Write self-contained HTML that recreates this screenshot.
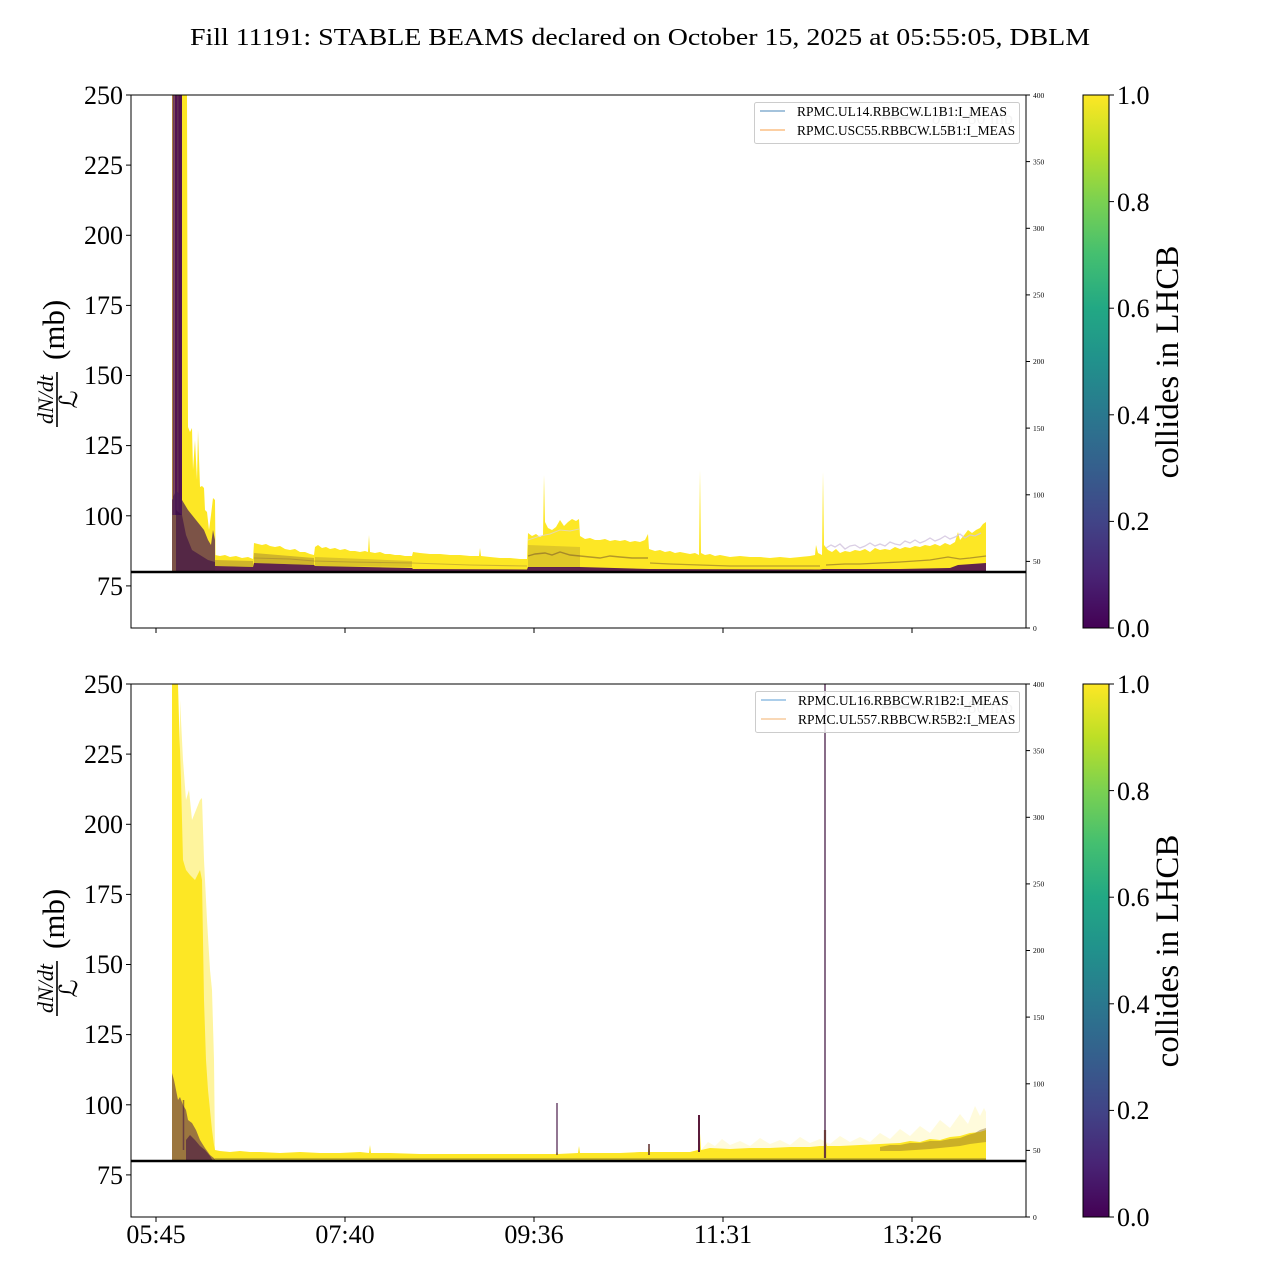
<!DOCTYPE html>
<html>
<head>
<meta charset="utf-8">
<style>
html,body{margin:0;padding:0;background:#fff;}
svg{display:block;}
text{font-family:"Liberation Serif","DejaVu Serif",serif;fill:#000;}
</style>
</head>
<body>
<svg width="1280" height="1280" viewBox="0 0 1280 1280" xmlns="http://www.w3.org/2000/svg">
<defs>
<linearGradient id="vir" x1="0" y1="1" x2="0" y2="0">
<stop offset="0" stop-color="#440154"/>
<stop offset="0.1" stop-color="#482475"/>
<stop offset="0.2" stop-color="#414487"/>
<stop offset="0.3" stop-color="#355f8d"/>
<stop offset="0.4" stop-color="#2a788e"/>
<stop offset="0.5" stop-color="#21918c"/>
<stop offset="0.6" stop-color="#22a884"/>
<stop offset="0.7" stop-color="#44bf70"/>
<stop offset="0.8" stop-color="#7ad151"/>
<stop offset="0.9" stop-color="#bddf26"/>
<stop offset="1" stop-color="#fde725"/>
</linearGradient>
</defs>
<rect width="1280" height="1280" fill="#fff"/>

<!-- Title -->
<text x="640" y="45" font-size="24" text-anchor="middle" textLength="900" lengthAdjust="spacingAndGlyphs">Fill 11191: STABLE BEAMS declared on October 15, 2025 at 05:55:05, DBLM</text>

<!-- ================= TOP PANEL ================= -->
<g>
<!-- early yellow spike region -->
<polygon fill="#fde725" points="172,572 172,95 187,95 187.5,300 188,427 190,432 192,428 193,470 195,440 197,480 198,430 200,487 202,486 204,488 205,510 207,512 209,530 211,515 213,498 215,500 215.5,555 215,572"/>
<!-- main yellow band -->
<polygon fill="#fde725" points="215,572 215,555 220,556 225,555 230,557 236,556 242,558 248,557 253,559 254,543 258,544 262,545 266,544 270,546 275,547 280,546 285,549 290,550 295,549 300,552 305,552 310,554 314,555 315,547 318,545 322,548 326,547 330,549 335,548 340,550 345,549 350,551 355,551 360,552 365,551 368,552 369,535 370,552 375,553 380,552 385,554 390,554 395,555 400,555 405,556 412,556 413,552 420,553 430,554 440,554 450,555 460,555 470,556 479,556 480,548 481,556 490,557 500,558 510,558 520,559 527,559 528,533 532,536 536,534 540,537 543,535 544,475 545,522 548,528 552,530 556,527 560,520 564,526 568,522 572,519 576,521 579,519 580,536 585,539 590,538 595,540 600,540 605,539 610,541 615,540 620,541 625,540 630,542 635,541 640,542 645,540 648,534 649,549 655,551 660,550 665,552 670,551 675,553 680,552 685,553 690,554 695,553 699,555 700,470 701,553 705,555 710,554 715,556 720,555 730,557 740,556 750,557 760,557 770,558 780,557 790,558 800,557 810,556 815,555 816,545 818,553 822,555 823,472 824,545 828,550 832,552 836,549 840,553 845,551 850,552 855,550 860,551 865,549 870,552 875,548 880,550 885,549 890,550 895,547 900,549 905,547 910,548 915,546 920,547 925,545 930,546 935,544 940,546 945,543 950,545 955,542 958,532 960,540 965,534 968,530 972,533 976,530 980,528 983,524 986,522 986,572"/>
<!-- lavender trace -->
<polyline fill="none" stroke="#d3c6df" stroke-width="1.3" opacity="0.85" points="826,548 831,545 835,547 840,544 845,549 850,546 855,545 860,548 865,546 870,543 875,546 880,544 885,546 890,542 895,544 900,545 905,541 910,543 915,540 920,543 925,541 930,538 935,541 940,539 945,536 950,539 955,537 960,534 965,538 970,535 975,536 981,533"/>
<polyline fill="none" stroke="#ddd2e6" stroke-width="1" opacity="0.7" points="528,540 540,536 550,534 560,530 570,531 579,529"/>
<!-- early dark columns -->
<rect x="172.5" y="95" width="9.5" height="420" fill="#440154" opacity="0.92"/>
<rect x="173.5" y="95" width="1.2" height="420" fill="#b09a70" opacity="0.6"/>
<rect x="177.5" y="95" width="0.8" height="420" fill="#8a7a50" opacity="0.5"/>
<!-- early dark mixture -->
<polygon fill="#4a1a55" opacity="0.72" points="172,572 172,500 176,490 180,495 182,500 185,505 188,510 192,515 196,520 200,525 204,530 208,540 211,545 213,530 215,540 215,572"/>
<polygon fill="#3a0a45" opacity="0.6" points="176,572 176,510 182,515 186,535 192,550 200,555 208,560 215,562 215,572"/>
<!-- brown mid mixture -->
<polygon fill="#7b5a35" opacity="0.35" points="215,560 253,561 253,567 215,566"/>
<polygon fill="#7b5a35" opacity="0.35" points="254,553 314,558 314,565 254,563"/>
<polygon fill="#7b5a35" opacity="0.25" points="315,557 412,561 412,567 315,566"/>
<polygon fill="#7b5a35" opacity="0.22" points="528,545 580,547 580,568 528,568"/>
<polyline fill="none" stroke="#6b4a2a" stroke-width="1.4" opacity="0.5" points="528,556 535,554 545,553 552,555 560,552 570,555 580,556 590,557 600,558 610,556 620,557 632,558 648,558"/>
<polyline fill="none" stroke="#6b4a2a" stroke-width="1.2" opacity="0.45" points="650,563 670,564 700,565 730,566 760,566 790,566 820,566"/>
<polyline fill="none" stroke="#6b4a2a" stroke-width="1.3" opacity="0.5" points="826,565 845,564 860,564 880,563 900,562 915,561 930,560 948,557 960,559 970,558 986,556"/>
<polyline fill="none" stroke="#8b6b3a" stroke-width="1.1" opacity="0.4" points="254,558 290,559 314,561 350,562 412,563 470,565 527,566"/>
<!-- dark bottom layer -->
<polygon fill="#440154" opacity="0.85" points="215,566 253,567 254,563 314,565 315,566 412,568 413,569 527,569.5 528,567 580,567 650,569 820,569.5 823,569 900,569 950,568 958,565 986,563 986,572 215,572"/>
<!-- axes frame -->
<rect x="131" y="95" width="895" height="533" fill="none" stroke="#000" stroke-width="1"/>
<!-- 80 line -->
<line x1="131" y1="572" x2="1026" y2="572" stroke="#000" stroke-width="2.6"/>
<!-- ticks -->
<g stroke="#000" stroke-width="1">
<line x1="126" y1="95" x2="131" y2="95"/><line x1="126" y1="165.1" x2="131" y2="165.1"/><line x1="126" y1="235.3" x2="131" y2="235.3"/><line x1="126" y1="305.4" x2="131" y2="305.4"/><line x1="126" y1="375.5" x2="131" y2="375.5"/><line x1="126" y1="445.6" x2="131" y2="445.6"/><line x1="126" y1="515.8" x2="131" y2="515.8"/><line x1="126" y1="585.9" x2="131" y2="585.9"/>
<line x1="156" y1="628" x2="156" y2="633"/><line x1="345" y1="628" x2="345" y2="633"/><line x1="534" y1="628" x2="534" y2="633"/><line x1="723" y1="628" x2="723" y2="633"/><line x1="912" y1="628" x2="912" y2="633"/>
<line x1="1026" y1="95" x2="1030" y2="95"/><line x1="1026" y1="161.6" x2="1030" y2="161.6"/><line x1="1026" y1="228.3" x2="1030" y2="228.3"/><line x1="1026" y1="294.9" x2="1030" y2="294.9"/><line x1="1026" y1="361.5" x2="1030" y2="361.5"/><line x1="1026" y1="428.1" x2="1030" y2="428.1"/><line x1="1026" y1="494.8" x2="1030" y2="494.8"/><line x1="1026" y1="561.4" x2="1030" y2="561.4"/><line x1="1026" y1="628" x2="1030" y2="628"/>
</g>
<g font-size="26" text-anchor="end">
<text x="123" y="104">250</text><text x="123" y="174">225</text><text x="123" y="244">200</text><text x="123" y="314">175</text><text x="123" y="384">150</text><text x="123" y="454">125</text><text x="123" y="525">100</text><text x="123" y="595">75</text>
</g>
<g font-size="7.5">
<text x="1033" y="98">400</text><text x="1033" y="164.5">350</text><text x="1033" y="231">300</text><text x="1033" y="297.5">250</text><text x="1033" y="364">200</text><text x="1033" y="431">150</text><text x="1033" y="497.5">100</text><text x="1033" y="564">50</text><text x="1033" y="631">0</text>
</g>
<!-- y label -->
<g transform="translate(57,427) rotate(-90)">
<line x1="0" y1="0" x2="55" y2="0" stroke="#000" stroke-width="1.6"/>
<text x="27.5" y="-4" text-anchor="middle" font-style="italic" font-size="22">dN/dt</text>
<text x="27.5" y="20" text-anchor="middle" font-size="25" style="font-family:'DejaVu Serif','DejaVu Sans',serif">ℒ</text>
<text x="67" y="7" font-size="31">(mb)</text>
</g>
<!-- legend -->
<line x1="882" y1="118" x2="917" y2="118" stroke="#b5b5b5" stroke-width="3"/>
<text x="932" y="124" font-size="18" style="fill:#c4c4c4"><tspan font-style="italic">σ</tspan><tspan font-size="11" dy="4" font-style="italic">inel</tspan><tspan dy="-4">=80 mb</tspan></text>
<rect x="754.5" y="102.5" width="265" height="41" rx="2" fill="#fff" fill-opacity="0.8" stroke="#cccccc" stroke-width="1"/>
<line x1="760" y1="111" x2="785" y2="111" stroke="#6e9fc8" stroke-width="1.3"/>
<line x1="760" y1="130" x2="785" y2="130" stroke="#f9b26c" stroke-width="1.3"/>
<text x="797" y="116" font-size="13.5">RPMC.UL14.RBBCW.L1B1:I_MEAS</text>
<text x="797" y="135" font-size="13.5">RPMC.USC55.RBBCW.L5B1:I_MEAS</text>
<!-- colorbar -->
<rect x="1083" y="95" width="26" height="533" fill="url(#vir)" stroke="#000" stroke-width="1"/>
<g stroke="#000" stroke-width="1">
<line x1="1109" y1="95" x2="1114" y2="95"/><line x1="1109" y1="201.6" x2="1114" y2="201.6"/><line x1="1109" y1="308.2" x2="1114" y2="308.2"/><line x1="1109" y1="414.8" x2="1114" y2="414.8"/><line x1="1109" y1="521.4" x2="1114" y2="521.4"/><line x1="1109" y1="628" x2="1114" y2="628"/>
</g>
<g font-size="26">
<text x="1117" y="104">1.0</text><text x="1117" y="211">0.8</text><text x="1117" y="317">0.6</text><text x="1117" y="424">0.4</text><text x="1117" y="530">0.2</text><text x="1117" y="637">0.0</text>
</g>
<text transform="translate(1178,362) rotate(-90)" font-size="33" text-anchor="middle">collides in LHCB</text>
</g>

<!-- ================= BOTTOM PANEL ================= -->
<g>
<!-- faint early yellow streaks -->
<polygon fill="#fde725" opacity="0.45" points="180,1161 180,700 183,760 186,800 189,790 192,820 196,810 200,800 202,798 204,860 207,920 210,970 212,990 214,1060 215,1150 215,1161"/>
<!-- dense early yellow -->
<polygon fill="#fde725" points="172,1161 172,684 178,684 179,720 181,780 183,860 186,870 190,875 195,880 200,870 202,880 204,1000 206,1060 208,1090 210,1110 212,1130 214,1145 215,1150 215,1161"/>
<!-- main band -->
<polygon fill="#fde725" points="215,1161 215,1150 220,1151 230,1152 240,1151 250,1152 260,1152 280,1153 300,1152 320,1153 340,1153 360,1152 369,1153 370,1145 371,1153 390,1153 420,1154 450,1154 480,1154 510,1154 540,1154 556,1154 557,1150 558,1154 578,1153 579,1146 580,1153 600,1153 620,1153 640,1152 648,1152 649,1144 650,1152 670,1152 690,1152 698,1150 699,1117 701,1150 710,1148 730,1149 750,1148 770,1148 790,1147 810,1147 820,1146 824,1146 825,1140 827,1146 840,1146 860,1145 880,1144 900,1143 910,1141 920,1142 930,1139 940,1140 950,1137 960,1136 970,1133 980,1132 986,1130 986,1161"/>
<!-- faint yellow noise above band -->
<polygon fill="#fde725" opacity="0.16" points="701,1150 708,1142 715,1146 722,1139 730,1145 740,1141 750,1146 760,1138 770,1144 780,1140 790,1145 800,1137 810,1143 820,1139 830,1144 840,1136 850,1142 860,1137 870,1142 880,1133 890,1139 900,1129 910,1136 920,1126 930,1133 940,1120 950,1128 960,1114 968,1124 975,1106 980,1116 984,1108 986,1112 986,1140 701,1152"/>
<!-- brownish mixture at end -->
<polygon fill="#8b6b2a" opacity="0.45" points="880,1147 890,1145 900,1145 910,1143 920,1143 930,1141 940,1141 950,1139 960,1138 968,1135 975,1133 980,1130 986,1128 986,1142 970,1144 960,1146 930,1149 900,1151 880,1151"/>
<!-- early purple mixture -->
<polygon fill="#4a1a55" opacity="0.55" points="172,1161 172,1073 174,1080 176,1090 178,1100 180,1097 183,1105 186,1110 188,1120 192,1123 196,1130 200,1140 205,1148 210,1155 215,1159 215,1161"/>
<polygon fill="#3a0a45" opacity="0.55" points="186,1161 186,1140 190,1135 195,1140 200,1146 205,1150 210,1156 213,1161"/>
<line x1="183.5" y1="1100" x2="183.5" y2="1150" stroke="#3a0a45" stroke-width="1.5" opacity="0.5"/>
<!-- spikes -->
<line x1="557" y1="1103" x2="557" y2="1155" stroke="#4a1a4a" stroke-width="1.2"/>
<line x1="699" y1="1115" x2="699" y2="1152" stroke="#5a1a3a" stroke-width="2"/>
<line x1="649" y1="1144" x2="649" y2="1155" stroke="#5a2a2a" stroke-width="1.5"/>
<line x1="825" y1="684" x2="825" y2="1158" stroke="#3a0a3a" stroke-width="1.2"/>
<line x1="825" y1="1130" x2="825" y2="1158" stroke="#6a3a3a" stroke-width="2.2"/>
<!-- thin dark base -->
<rect x="215" y="1158" width="771" height="2.5" fill="#7a6a30" opacity="0.4"/>
<!-- axes frame -->
<rect x="131" y="684" width="895" height="533" fill="none" stroke="#000" stroke-width="1"/>
<line x1="131" y1="1161" x2="1026" y2="1161" stroke="#000" stroke-width="2.6"/>
<g stroke="#000" stroke-width="1">
<line x1="126" y1="684" x2="131" y2="684"/><line x1="126" y1="754.1" x2="131" y2="754.1"/><line x1="126" y1="824.3" x2="131" y2="824.3"/><line x1="126" y1="894.4" x2="131" y2="894.4"/><line x1="126" y1="964.5" x2="131" y2="964.5"/><line x1="126" y1="1034.6" x2="131" y2="1034.6"/><line x1="126" y1="1104.8" x2="131" y2="1104.8"/><line x1="126" y1="1174.9" x2="131" y2="1174.9"/>
<line x1="156" y1="1217" x2="156" y2="1222"/><line x1="345" y1="1217" x2="345" y2="1222"/><line x1="534" y1="1217" x2="534" y2="1222"/><line x1="723" y1="1217" x2="723" y2="1222"/><line x1="912" y1="1217" x2="912" y2="1222"/>
<line x1="1026" y1="684" x2="1030" y2="684"/><line x1="1026" y1="750.6" x2="1030" y2="750.6"/><line x1="1026" y1="817.3" x2="1030" y2="817.3"/><line x1="1026" y1="883.9" x2="1030" y2="883.9"/><line x1="1026" y1="950.5" x2="1030" y2="950.5"/><line x1="1026" y1="1017.1" x2="1030" y2="1017.1"/><line x1="1026" y1="1083.8" x2="1030" y2="1083.8"/><line x1="1026" y1="1150.4" x2="1030" y2="1150.4"/><line x1="1026" y1="1217" x2="1030" y2="1217"/>
</g>
<g font-size="26" text-anchor="end">
<text x="123" y="693">250</text><text x="123" y="763">225</text><text x="123" y="833">200</text><text x="123" y="903">175</text><text x="123" y="973">150</text><text x="123" y="1043">125</text><text x="123" y="1114">100</text><text x="123" y="1184">75</text>
</g>
<g font-size="7.5">
<text x="1033" y="687">400</text><text x="1033" y="753.5">350</text><text x="1033" y="820">300</text><text x="1033" y="886.5">250</text><text x="1033" y="953">200</text><text x="1033" y="1020">150</text><text x="1033" y="1086.5">100</text><text x="1033" y="1153">50</text><text x="1033" y="1220">0</text>
</g>
<g font-size="26" text-anchor="middle">
<text x="156" y="1243">05:45</text><text x="345" y="1243">07:40</text><text x="534" y="1243">09:36</text><text x="723" y="1243">11:31</text><text x="912" y="1243">13:26</text>
</g>
<!-- y label -->
<g transform="translate(57,1016) rotate(-90)">
<line x1="0" y1="0" x2="55" y2="0" stroke="#000" stroke-width="1.6"/>
<text x="27.5" y="-4" text-anchor="middle" font-style="italic" font-size="22">dN/dt</text>
<text x="27.5" y="20" text-anchor="middle" font-size="25" style="font-family:'DejaVu Serif','DejaVu Sans',serif">ℒ</text>
<text x="67" y="7" font-size="31">(mb)</text>
</g>
<!-- legend -->
<line x1="882" y1="707" x2="917" y2="707" stroke="#b5b5b5" stroke-width="3"/>
<text x="932" y="713" font-size="18" style="fill:#c4c4c4"><tspan font-style="italic">σ</tspan><tspan font-size="11" dy="4" font-style="italic">inel</tspan><tspan dy="-4">=80 mb</tspan></text>
<rect x="755.5" y="691.5" width="264" height="41" rx="2" fill="#fff" fill-opacity="0.8" stroke="#cccccc" stroke-width="1"/>
<line x1="761" y1="700" x2="786" y2="700" stroke="#7ab0dd" stroke-width="1.3"/>
<line x1="761" y1="719" x2="786" y2="719" stroke="#f5c08a" stroke-width="1.3"/>
<text x="798" y="705" font-size="13.5">RPMC.UL16.RBBCW.R1B2:I_MEAS</text>
<text x="798" y="724" font-size="13.5">RPMC.UL557.RBBCW.R5B2:I_MEAS</text>
<!-- colorbar -->
<rect x="1083" y="684" width="26" height="533" fill="url(#vir)" stroke="#000" stroke-width="1"/>
<g stroke="#000" stroke-width="1">
<line x1="1109" y1="684" x2="1114" y2="684"/><line x1="1109" y1="790.6" x2="1114" y2="790.6"/><line x1="1109" y1="897.2" x2="1114" y2="897.2"/><line x1="1109" y1="1003.8" x2="1114" y2="1003.8"/><line x1="1109" y1="1110.4" x2="1114" y2="1110.4"/><line x1="1109" y1="1217" x2="1114" y2="1217"/>
</g>
<g font-size="26">
<text x="1117" y="693">1.0</text><text x="1117" y="800">0.8</text><text x="1117" y="906">0.6</text><text x="1117" y="1013">0.4</text><text x="1117" y="1119">0.2</text><text x="1117" y="1226">0.0</text>
</g>
<text transform="translate(1178,951) rotate(-90)" font-size="33" text-anchor="middle">collides in LHCB</text>
</g>
</svg>
</body>
</html>
